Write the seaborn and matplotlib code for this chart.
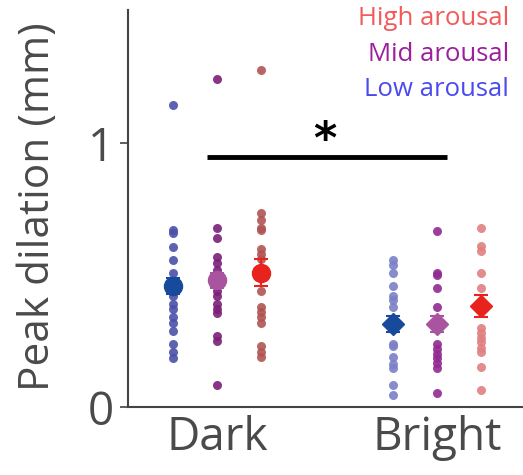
import numpy as np
import pandas as pd
import matplotlib
matplotlib.use("Agg")
import matplotlib.pyplot as plt
import seaborn as sns

# peak dilation (mm) per subject
conditions = ["Dark", "Bright"]
arousal = ["Low", "Mid", "High"]

dark_low = [1.144, 0.67, 0.66, 0.606, 0.557, 0.51, 0.47, 0.45, 0.42, 0.39, 0.37,
            0.34, 0.32, 0.29, 0.24, 0.21, 0.185]
dark_mid = [1.245, 0.68, 0.64, 0.57, 0.545, 0.52, 0.50, 0.46, 0.44, 0.42, 0.39,
            0.37, 0.355, 0.27, 0.25, 0.083]
dark_high = [1.277, 0.735, 0.71, 0.68, 0.67, 0.60, 0.58, 0.56, 0.52, 0.44, 0.38,
             0.36, 0.34, 0.32, 0.23, 0.21, 0.19]
bright_low = [0.557, 0.538, 0.51, 0.46, 0.42, 0.405, 0.38, 0.33, 0.30, 0.24, 0.23,
              0.19, 0.165, 0.148, 0.083, 0.045]
bright_mid = [0.667, 0.51, 0.50, 0.45, 0.38, 0.33, 0.30, 0.24, 0.22, 0.20, 0.185,
              0.167, 0.148, 0.053]
bright_high = [0.68, 0.61, 0.59, 0.51, 0.45, 0.40, 0.37, 0.30, 0.28, 0.26, 0.245,
               0.225, 0.21, 0.15, 0.064]

# group means and s.e.m. as drawn
mean_vals = {("Dark", "Low"): 0.46, ("Dark", "Mid"): 0.48, ("Dark", "High"): 0.51,
             ("Bright", "Low"): 0.315, ("Bright", "Mid"): 0.315, ("Bright", "High"): 0.383}
sem_vals = {("Dark", "Low"): 0.03, ("Dark", "Mid"): 0.03, ("Dark", "High"): 0.05,
            ("Bright", "Low"): 0.03, ("Bright", "Mid"): 0.03, ("Bright", "High"): 0.04}

sig_y = 0.947

values = {("Dark", "Low"): dark_low, ("Dark", "Mid"): dark_mid, ("Dark", "High"): dark_high,
          ("Bright", "Low"): bright_low, ("Bright", "Mid"): bright_mid, ("Bright", "High"): bright_high}

rows = []
for (cond, ar), vals in values.items():
    for v in vals:
        rows.append({"condition": cond, "arousal": ar, "dilation": v})
df = pd.DataFrame(rows)

offset = {"Low": -0.2, "Mid": 0.0, "High": 0.2}
df["x"] = df["condition"].map({c: i for i, c in enumerate(conditions)}) + df["arousal"].map(offset)

point_colors = {("Dark", "Low"): "#4a50a8", ("Dark", "Mid"): "#7a1f78", ("Dark", "High"): "#b05454",
                ("Bright", "Low"): "#7a80c8", ("Bright", "Mid"): "#902a90", ("Bright", "High"): "#e08080"}
mean_colors = {"Low": "#184a9c", "Mid": "#a8549e", "High": "#e8221c"}
label_colors = {"High": "#f25a5a", "Mid": "#9c1f9c", "Low": "#4a4af0"}

sns.set_style("white")
plt.rcParams["font.family"] = ["Open Sans", "DejaVu Sans"]

fig = plt.figure(figsize=(5.23, 4.75), dpi=100)
ax = fig.add_axes([0.245, 0.143, 0.755, 0.836])

for (cond, ar), grp in df.groupby(["condition", "arousal"]):
    sns.scatterplot(data=grp, x="x", y="dilation", color=point_colors[(cond, ar)],
                    s=42, linewidth=0, alpha=0.9, ax=ax, legend=False)

for i, cond in enumerate(conditions):
    marker = "o" if cond == "Dark" else "D"
    ms = 13 if cond == "Dark" else 11.5
    for ar in arousal:
        ax.errorbar(i + offset[ar], mean_vals[(cond, ar)], yerr=sem_vals[(cond, ar)],
                    fmt=marker, color=mean_colors[ar], markersize=ms, capsize=5,
                    elinewidth=1.5, capthick=1.5, zorder=5)

# significance bar
ax.plot([-0.045, 1.045], [sig_y, sig_y], color="black", lw=3.5, solid_capstyle="butt")
ax.text(0.488, 1.012, "*", ha="center", va="center", fontsize=32, fontweight="bold",
        color="black", family="DejaVu Sans")

for k, ar in enumerate(["High", "Mid", "Low"]):
    ax.text(0.965, 0.978 - k * 0.089, f"{ar} arousal", transform=ax.transAxes,
            ha="right", va="center", fontsize=18.5, color=label_colors[ar])

ax.set_xlim(-0.405, 1.39)
ax.set_ylim(0, 1.505)
ax.set_xticks([0, 1])
ax.set_xticklabels(conditions)
ax.set_yticks([0, 1])
ax.set_yticklabels(["0", "1"])
ax.set_xlabel("")
ax.set_ylabel("Peak dilation (mm)", fontsize=30.5, color="#4a4a4a")
ax.yaxis.set_label_coords(-0.175, 0.506)
ax.tick_params(axis="x", length=0, labelsize=33, labelcolor="#4a4a4a", pad=6)
ax.tick_params(axis="y", length=6, width=1.2, color="#444444", labelsize=33,
               labelcolor="#4a4a4a", pad=4, left=True)
sns.despine(ax=ax)
for side in ["left", "bottom"]:
    ax.spines[side].set_color("#444444")
    ax.spines[side].set_linewidth(1.5)

fig.savefig("out.png", dpi=100)
